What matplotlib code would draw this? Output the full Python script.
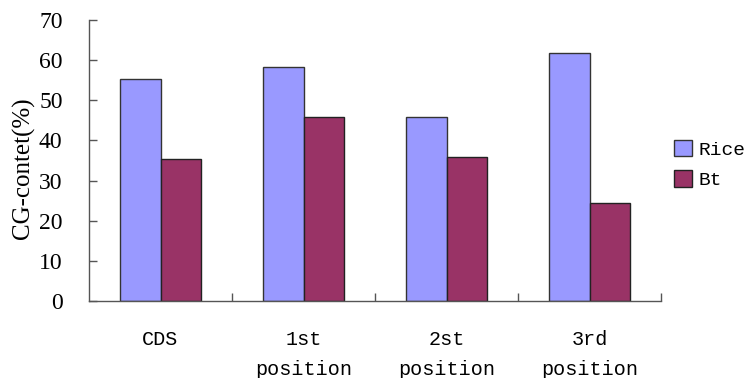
import matplotlib
matplotlib.use("Agg")
import matplotlib.pyplot as plt
import numpy as np

categories = ["CDS", "1st\nposition", "2st\nposition", "3rd\nposition"]
rice = [55.3, 58.3, 45.9, 61.7]
bt = [35.4, 45.8, 35.9, 24.4]
series_names = ["Rice", "Bt"]
yticks = [0, 10, 20, 30, 40, 50, 60, 70]

fig = plt.figure(figsize=(7.48, 3.78), dpi=100)
ax = fig.add_axes([89 / 748, 1 - 301 / 378, 572 / 748, 281 / 378])

x = np.arange(len(categories))
w = 0.285
ax.bar(x - w / 2, rice, width=w, color="#9999FF", edgecolor="#333333", linewidth=1.0, label=series_names[0])
ax.bar(x + w / 2, bt, width=w, color="#993366", edgecolor="#222222", linewidth=1.0, label=series_names[1])

ax.set_xlim(-0.5, len(categories) - 0.5)
ax.set_ylim(0, 70)

for s in ["top", "right"]:
    ax.spines[s].set_visible(False)
for s in ["left", "bottom"]:
    ax.spines[s].set_color("#555555")
    ax.spines[s].set_linewidth(1.0)

ax.set_yticks(yticks)
ax.set_yticklabels([str(v) for v in yticks], family="Liberation Serif", fontsize=17)
ax.tick_params(axis="y", direction="in", length=6, width=1, color="#555555", pad=19)

# Category boundaries carry the x ticks; names sit at group centres
ax.set_xticks(np.arange(len(categories)) + 0.5)
ax.set_xticklabels([])
ax.tick_params(axis="x", direction="in", length=6, width=1, color="#555555")
for xi, lab in zip(x, categories):
    ax.text(xi, -7.2, lab, ha="center", va="top", family="Liberation Mono",
            fontsize=14.5, linespacing=1.75, transform=ax.transData, clip_on=False)

ax.set_ylabel("CG-contet(%)", family="Liberation Serif", fontsize=18)
ax.yaxis.set_label_coords(-0.094, 0.473)

leg = fig.legend(loc="upper left", bbox_to_anchor=(674 / 748, 1 - 140 / 378), frameon=False,
                 prop={"family": "Liberation Mono", "size": 14},
                 handlelength=0.9, handleheight=0.9, handletextpad=0.35,
                 labelspacing=0.6, borderpad=0, borderaxespad=0)

fig.savefig("out.png", dpi=100)
